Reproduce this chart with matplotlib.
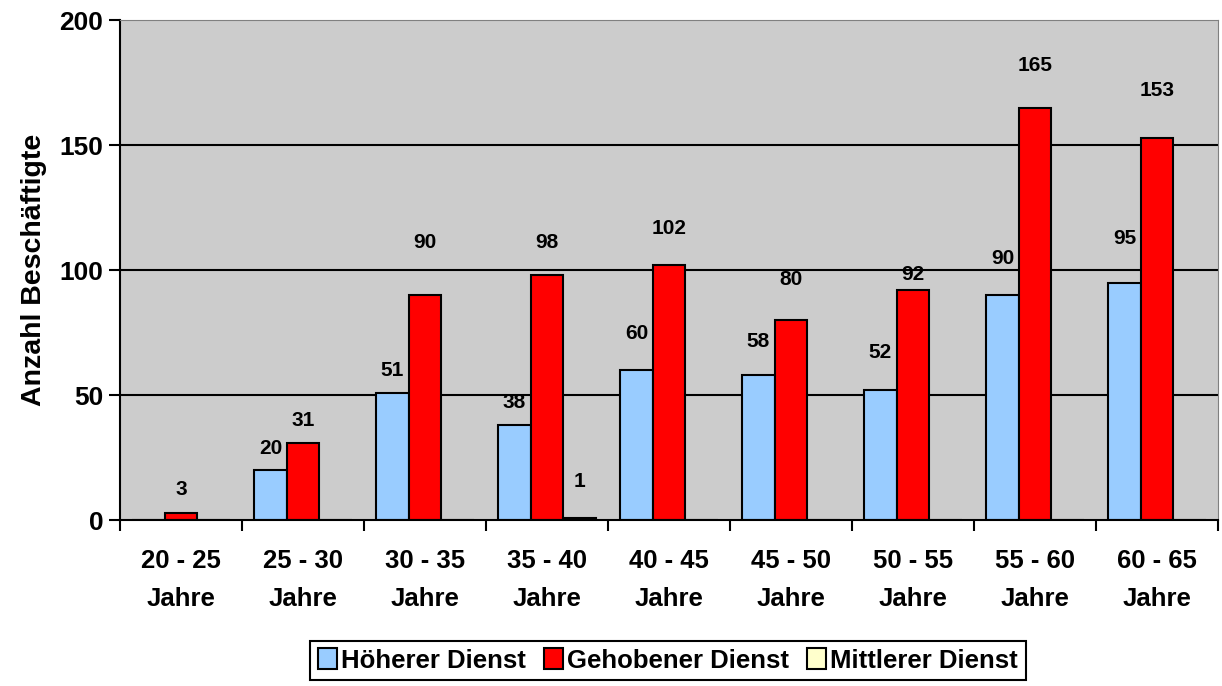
import numpy as np
from matplotlib import pyplot as plt

categories = ["20 - 25\nJahre", "25 - 30\nJahre", "30 - 35\nJahre", "35 - 40\nJahre", "40 - 45\nJahre",
              "45 - 50\nJahre", "50 - 55\nJahre", "55 - 60\nJahre", "60 - 65\nJahre"]
hoeherer = [0, 20, 51, 38, 60, 58, 52, 90, 95]
gehobener = [3, 31, 90, 98, 102, 80, 92, 165, 153]
mittlerer = [0, 0, 0, 1, 0, 0, 0, 0, 0]
series_names = ["Höherer Dienst", "Gehobener Dienst", "Mittlerer Dienst"]

# label heights above the bar tops (pixels), the labels were moved by hand in the original
hoeherer_lbl_off = [22, 22, 22, 23, 37, 34, 38, 37, 44]
gehobener_lbl_off = [23, 22, 53, 33, 37, 41, 16, 42, 47]
mittlerer_lbl_off = [36, 36, 36, 36, 36, 36, 36, 36, 36]

colors = ["#99CCFF", "#FF0000", "#FFFFCC"]
font = "Liberation Sans"

fig = plt.figure(figsize=(12.22, 6.86), dpi=100)
ax = fig.add_axes([120 / 1222, 1 - 520 / 686, 1098 / 1222, 500 / 686])
ax.set_facecolor("#CCCCCC")

x = np.arange(len(categories))
w = 0.267
all_series = [hoeherer, gehobener, mittlerer]
all_offsets = [hoeherer_lbl_off, gehobener_lbl_off, mittlerer_lbl_off]
for k, (vals, offs) in enumerate(zip(all_series, all_offsets)):
    pos = x + (k - 1) * w
    ax.bar(pos, vals, width=w, color=colors[k], edgecolor="black", linewidth=1.5,
           label=series_names[k], zorder=3)
    for p, v, o in zip(pos, vals, offs):
        if v == 0:
            continue
        ax.annotate(str(v), (p, v), xytext=(0, o), textcoords="offset pixels",
                    ha="center", va="center", fontsize=15, fontweight="bold",
                    family=font, zorder=4)

ax.set_ylim(0, 200)
ax.set_xlim(-0.5, len(categories) - 0.5)
ax.set_yticks([0, 50, 100, 150, 200])
for g in [50, 100, 150]:
    ax.axhline(g, color="black", linewidth=1.5, zorder=1)

ax.set_xticks(x)
ax.set_xticklabels(categories, fontsize=18.5, fontweight="bold", family=font, linespacing=1.72)
ax.set_xticks(np.arange(-0.5, len(categories)), minor=True)
ax.tick_params(axis="x", which="major", length=0, pad=21)
ax.tick_params(axis="x", which="minor", length=8, width=1.5, direction="out")
ax.tick_params(axis="y", length=8, width=1.5, direction="out", pad=4)
for lab in ax.get_yticklabels():
    lab.set_fontsize(19)
    lab.set_fontweight("bold")
    lab.set_family(font)

ax.set_ylabel("Anzahl Beschäftigte", fontsize=20.5, fontweight="bold", family=font, labelpad=9)

ax.spines["left"].set_linewidth(1.5)
ax.spines["bottom"].set_linewidth(1.5)
ax.spines["top"].set_color("#808080")
ax.spines["right"].set_color("#808080")
ax.spines["bottom"].set_zorder(5)

leg = fig.legend(loc="center", bbox_to_anchor=(668 / 1222, 1 - 660.5 / 686), ncol=3,
                 prop={"family": font, "weight": "bold", "size": 18.5},
                 handlelength=0.75, handleheight=0.85, handletextpad=0.15, columnspacing=0.7,
                 borderpad=0.3, fancybox=False, edgecolor="black", framealpha=1)
leg.get_frame().set_linewidth(1.5)

fig.savefig("out.png", dpi=100)
